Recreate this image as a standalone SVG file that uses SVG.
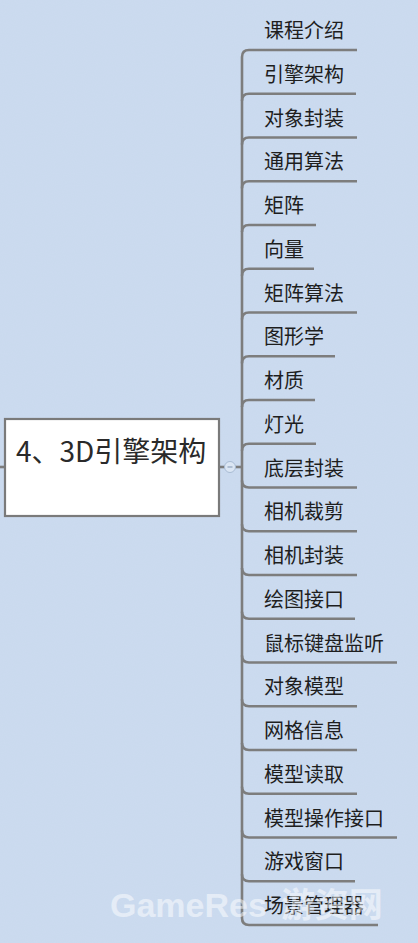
<svg xmlns="http://www.w3.org/2000/svg" width="418" height="943" viewBox="0 0 418 943">
<defs>
<style>
.bg{fill:#c9d9ee}
.t{font-family:"Noto Sans CJK SC","Noto Sans",sans-serif;font-size:20px;fill:#1e1e1e}
.ul{stroke:#7d7d7d;stroke-width:2.6;fill:none;stroke-linecap:butt}
.c{stroke:#7d7d7d;stroke-width:2.6;fill:none}
.root-box{fill:#ffffff;stroke:#7a7a7a;stroke-width:2.2}
.root-t{font-family:"Noto Sans CJK SC","Noto Sans",sans-serif;font-size:28px;fill:#2a2a2a}
.wm{font-family:"Liberation Sans","Noto Sans CJK SC",sans-serif;font-size:34px;font-weight:bold;fill:#ffffff;fill-opacity:0.5}
</style>
<filter id="tex" x="0" y="0" width="100%" height="100%">
<feTurbulence type="fractalNoise" baseFrequency="0.9" numOctaves="2" seed="3" result="n"/>
<feColorMatrix type="matrix" values="0 0 0 0 1  0 0 0 0 1  0 0 0 0 1  0 0 0 0.06 0"/>
</filter>
</defs>
<rect class="bg" x="0" y="0" width="418" height="943"/>
<rect x="0" y="0" width="418" height="943" filter="url(#tex)"/>

<g id="connectors">
<path class="c" d="M0,467 H5"/>
<path class="c" d="M219,467 H225" stroke-width="1.6"/>
<path class="c" d="M235,467 H242" stroke-width="1.6"/>
<path class="c" d="M242,57 V918"/>
<path class="c" d="M242,57 Q242,50 249,50"/>
<path class="c" d="M242,100.75 Q242,93.75 249,93.75"/>
<path class="c" d="M242,144.5 Q242,137.5 249,137.5"/>
<path class="c" d="M242,188.25 Q242,181.25 249,181.25"/>
<path class="c" d="M242,232 Q242,225 249,225"/>
<path class="c" d="M242,275.75 Q242,268.75 249,268.75"/>
<path class="c" d="M242,319.5 Q242,312.5 249,312.5"/>
<path class="c" d="M242,363.25 Q242,356.25 249,356.25"/>
<path class="c" d="M242,407 Q242,400 249,400"/>
<path class="c" d="M242,450.75 Q242,443.75 249,443.75"/>
<path class="c" d="M242,480.5 Q242,487.5 249,487.5"/>
<path class="c" d="M242,524.25 Q242,531.25 249,531.25"/>
<path class="c" d="M242,568 Q242,575 249,575"/>
<path class="c" d="M242,611.75 Q242,618.75 249,618.75"/>
<path class="c" d="M242,655.5 Q242,662.5 249,662.5"/>
<path class="c" d="M242,699.25 Q242,706.25 249,706.25"/>
<path class="c" d="M242,743 Q242,750 249,750"/>
<path class="c" d="M242,786.75 Q242,793.75 249,793.75"/>
<path class="c" d="M242,830.5 Q242,837.5 249,837.5"/>
<path class="c" d="M242,874.25 Q242,881.25 249,881.25"/>
<path class="c" d="M242,918 Q242,925 249,925"/>
<circle cx="230" cy="467" r="5.5" fill="#dbe6f4" stroke="#a9bcd4" stroke-width="1"/>
<path d="M227.5,467 H232.5" stroke="#8fa3bd" stroke-width="1.2"/>
</g>

<g id="root">
<rect class="root-box" x="5" y="419" width="214" height="97"/>
<text class="root-t" x="16" y="462">4、3D引擎架构</text>
</g>

<g id="n0"><path class="ul" d="M249,50 H357"/><text class="t" x="264" y="38">课程介绍</text></g>
<g id="n1"><path class="ul" d="M249,93.75 H356"/><text class="t" x="264" y="81.75">引擎架构</text></g>
<g id="n2"><path class="ul" d="M249,137.5 H357"/><text class="t" x="264" y="125.5">对象封装</text></g>
<g id="n3"><path class="ul" d="M249,181.25 H357"/><text class="t" x="264" y="169.25">通用算法</text></g>
<g id="n4"><path class="ul" d="M249,225 H316"/><text class="t" x="264" y="213">矩阵</text></g>
<g id="n5"><path class="ul" d="M249,268.75 H314"/><text class="t" x="264" y="256.75">向量</text></g>
<g id="n6"><path class="ul" d="M249,312.5 H357"/><text class="t" x="264" y="300.5">矩阵算法</text></g>
<g id="n7"><path class="ul" d="M249,356.25 H335"/><text class="t" x="264" y="344.25">图形学</text></g>
<g id="n8"><path class="ul" d="M249,400 H315"/><text class="t" x="264" y="388">材质</text></g>
<g id="n9"><path class="ul" d="M249,443.75 H316"/><text class="t" x="264" y="431.75">灯光</text></g>
<g id="n10"><path class="ul" d="M249,487.5 H357"/><text class="t" x="264" y="475.5">底层封装</text></g>
<g id="n11"><path class="ul" d="M249,531.25 H357"/><text class="t" x="264" y="519.25">相机裁剪</text></g>
<g id="n12"><path class="ul" d="M249,575 H357"/><text class="t" x="264" y="563">相机封装</text></g>
<g id="n13"><path class="ul" d="M249,618.75 H355"/><text class="t" x="264" y="606.75">绘图接口</text></g>
<g id="n14"><path class="ul" d="M249,662.5 H397"/><text class="t" x="264" y="650.5">鼠标键盘监听</text></g>
<g id="n15"><path class="ul" d="M249,706.25 H357"/><text class="t" x="264" y="694.25">对象模型</text></g>
<g id="n16"><path class="ul" d="M249,750 H357"/><text class="t" x="264" y="738">网格信息</text></g>
<g id="n17"><path class="ul" d="M249,793.75 H357"/><text class="t" x="264" y="781.75">模型读取</text></g>
<g id="n18"><path class="ul" d="M249,837.5 H397"/><text class="t" x="264" y="825.5">模型操作接口</text></g>
<g id="n19"><path class="ul" d="M249,881.25 H355"/><text class="t" x="264" y="869.25">游戏窗口</text></g>
<g id="n20"><path class="ul" d="M249,925 H378"/><text class="t" x="264" y="913">场景管理器</text></g>

<text class="wm" x="110" y="917">GameRes<tspan dx="14">游资网</tspan></text>
</svg>
